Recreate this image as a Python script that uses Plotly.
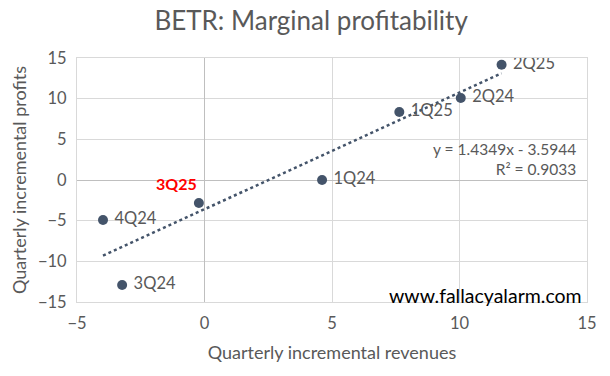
import plotly.graph_objects as go

labels = ["1Q24", "2Q24", "3Q24", "4Q24", "1Q25", "2Q25", "3Q25"]
revenues = [4.61, 10.05, -3.23, -3.98, 7.64, 11.65, -0.22]
profits = [0.0, 10.08, -12.9, -4.92, 8.36, 14.18, -2.83]
slope = 1.4349
intercept = -3.5944
r2 = 0.9033
x_ticks = [-5, 0, 5, 10, 15]
y_ticks = [-15, -10, -5, 0, 5, 10, 15]

marker_color = "#44546A"
grey = "#595959"
font_family = "Lato, 'Open Sans', sans-serif"


def f(size, color=grey, weight=400):
    return dict(family=font_family, size=size, color=color, weight=weight)


fig = go.Figure()

xmin, xmax = min(revenues), max(revenues)
fig.add_trace(go.Scatter(
    x=[xmin, xmax], y=[slope * xmin + intercept, slope * xmax + intercept],
    mode="lines", line=dict(color=marker_color, width=2.5, dash="dot"),
    hoverinfo="skip", showlegend=False))

normal = [i for i, l in enumerate(labels) if l != "3Q25"]
fig.add_trace(go.Scatter(
    x=[revenues[i] for i in normal], y=[profits[i] for i in normal],
    mode="markers+text", text=[" " + labels[i] for i in normal],
    textposition="middle right",
    textfont=f(16.5),
    marker=dict(color=marker_color, size=10), showlegend=False))

hl = labels.index("3Q25")
fig.add_trace(go.Scatter(
    x=[revenues[hl]], y=[profits[hl]], mode="markers",
    marker=dict(color=marker_color, size=10), showlegend=False))
fig.add_annotation(x=revenues[hl], y=profits[hl], text="<b>3Q25</b>",
                   showarrow=False, xanchor="right", yanchor="bottom",
                   xshift=0, yshift=8,
                   font=f(16, "#FF0000", 700))

fig.add_annotation(xref="paper", yref="paper", x=0.982, y=0.672,
                   text=f"y = {slope}x - {abs(intercept)}<br>R² = {r2}",
                   showarrow=False, xanchor="right", yanchor="top", align="right",
                   font=f(15.5))

fig.add_annotation(xref="paper", yref="paper", x=0.994, y=0.027,
                   text="www.fallacyalarm.com", showarrow=False,
                   xanchor="right", yanchor="middle",
                   font=f(19.5, "#000000"))

axis_common = dict(showgrid=True, gridcolor="#D9D9D9", gridwidth=1,
                   zeroline=True, zerolinecolor="#BFBFBF", zerolinewidth=1,
                   showline=True, linecolor="#D9D9D9", mirror=True,
                   tickfont=f(16.5),
                   ticks="outside", ticklen=6, tickcolor="rgba(0,0,0,0)")

fig.update_xaxes(range=[-5, 15], tickvals=x_ticks,
                 title=dict(text="Quarterly incremental revenues",
                            font=f(18), standoff=14),
                 **axis_common)
fig.update_yaxes(range=[-15, 15], tickvals=y_ticks,
                 title=dict(text="Quarterly incremental profits",
                            font=f(18), standoff=6),
                 **axis_common)

fig.update_layout(
    width=610, height=376,
    margin=dict(l=77, r=23, t=58, b=74),
    paper_bgcolor="white", plot_bgcolor="white",
    title=dict(text="BETR: Marginal profitability", x=0.51, xanchor="center",
               y=0.945, yanchor="middle",
               font=f(26)),
    showlegend=False)

fig.write_html("out.html", config={"displayModeBar": False},
               post_script="document.body.style.margin='0';")
